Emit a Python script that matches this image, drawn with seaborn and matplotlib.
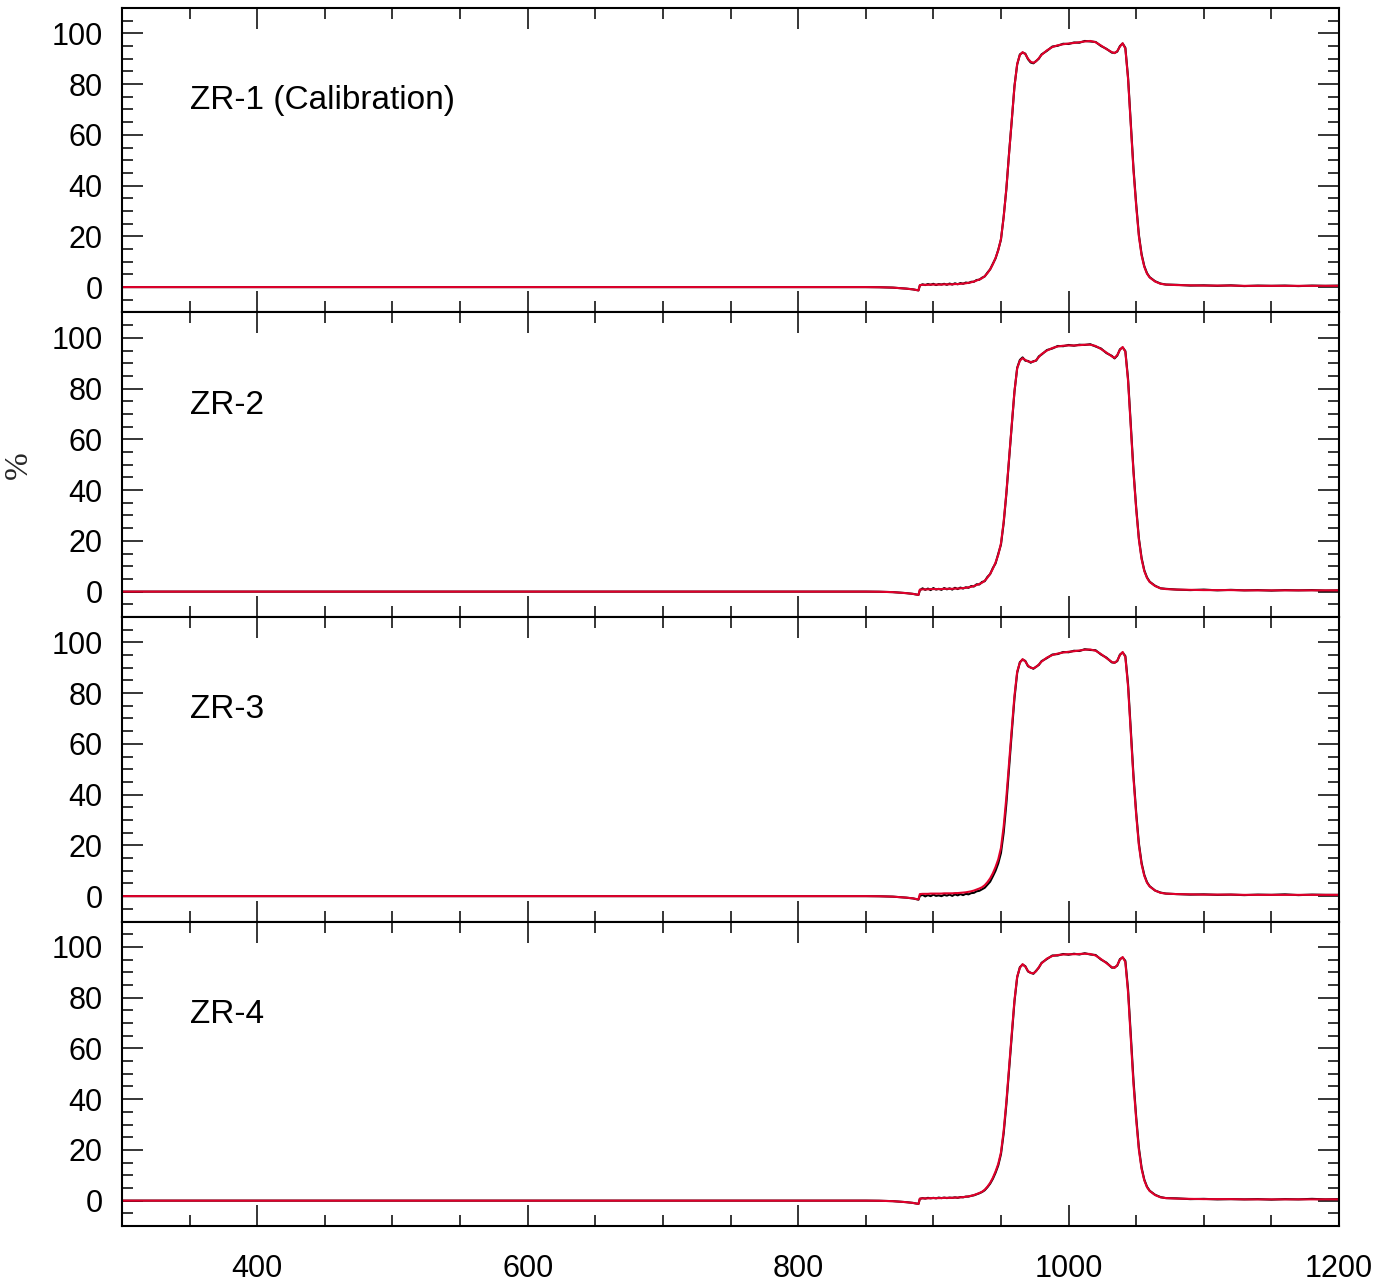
import matplotlib
matplotlib.use("Agg")
import matplotlib.pyplot as plt
from matplotlib.ticker import FixedLocator, MultipleLocator
import pandas as pd
import seaborn as sns

# Wavelength sampling (nm)
wavelength_nm = [
    300, 350, 400, 450, 500, 550, 600, 650, 700, 750, 800, 850,
    860, 870, 880, 885, 889,
    890, 892, 894, 896, 898, 900, 902, 904, 906, 908,
    910, 912, 914, 916, 918, 920, 922, 924, 926, 928,
    930, 932, 934, 936, 938, 940, 942, 944, 946, 948,
    950, 952, 954, 956, 958, 960, 962, 964, 966, 968,
    970, 972, 974, 976, 978, 980,
    984, 988, 992, 996, 1000, 1004, 1008, 1012, 1016, 1020, 1024, 1028,
    1032, 1034, 1036, 1038, 1040, 1042, 1044, 1046, 1048, 1050, 1052, 1054, 1056, 1058, 1060,
    1064, 1068, 1072, 1080,
    1090, 1100, 1110, 1120, 1130, 1140, 1150, 1160, 1170, 1180, 1190, 1200,
]

# ZR-1 transmission (%)
zr1_measured = [
    0.0, 0.0, 0.0, 0.0, 0.0, 0.0, 0.0, 0.0, 0.0, 0.0, 0.0, 0.0,
    -0.05, -0.2, -0.6, -0.9, -1.3,
    0.6, 1.1, 0.8, 1.2, 0.9, 1.3, 0.8, 1.2, 1.0, 1.3,
    0.9, 1.4, 1.0, 1.5, 1.1, 1.6, 1.3, 1.8, 1.6, 2.1,
    2.1, 2.8, 2.9, 3.7, 4.2, 5.7, 7.0, 9.2, 11.3, 14.7,
    18.7, 27.8, 38.6, 52.9, 65.6, 79.3, 87.7, 91.7, 92.4, 92.0,
    89.8, 88.5, 88.2, 89.1, 90.0, 91.7,
    93.1, 94.8, 95.1, 95.9, 95.8, 96.4, 96.3, 97.0, 96.8, 96.6, 95.0, 93.9,
    92.4, 92.3, 92.8, 95.0, 96.0, 94.3, 82.6, 64.8, 46.9, 32.8, 20.6, 13.0, 8.3, 5.5, 3.9,
    2.3, 1.4, 1.0, 0.9,
    0.6, 0.7, 0.5, 0.7, 0.4, 0.6, 0.5, 0.6, 0.4, 0.6, 0.5, 0.6,
]
zr1_fit = [
    0.0, 0.0, 0.0, 0.0, 0.0, 0.0, 0.0, 0.0, 0.0, 0.0, 0.0, 0.0,
    -0.05, -0.2, -0.6, -0.9, -1.3,
    0.8, 0.9, 0.9, 0.9, 1.0, 1.0, 1.0, 1.0, 1.0, 1.1,
    1.1, 1.1, 1.1, 1.2, 1.2, 1.3, 1.4, 1.5, 1.7, 1.9,
    2.2, 2.6, 3.0, 3.5, 4.3, 5.5, 7.0, 9.0, 11.5, 14.5,
    19.0, 27.5, 39.0, 52.5, 66.0, 79.0, 88.0, 91.5, 92.6, 91.8,
    90.0, 88.8, 88.4, 89.0, 90.2, 91.5,
    93.3, 94.6, 95.3, 95.7, 96.0, 96.2, 96.5, 96.8, 97.0, 96.5, 95.2, 93.8,
    92.6, 92.2, 93.0, 94.8, 96.1, 94.0, 82.0, 64.0, 46.0, 32.0, 20.0, 12.5, 8.0, 5.3, 3.8,
    2.2, 1.3, 1.0, 0.8,
    0.7, 0.6, 0.6, 0.6, 0.5, 0.5, 0.5, 0.5, 0.5, 0.5, 0.5, 0.5,
]

# ZR-2 transmission (%)
zr2_measured = [
    0.0, 0.0, 0.0, 0.0, 0.0, 0.0, 0.0, 0.0, 0.0, 0.0, 0.0, 0.0,
    -0.05, -0.2, -0.6, -0.9, -1.3,
    0.5, 1.3, 0.7, 1.2, 0.6, 1.4, 0.8, 1.1, 0.7, 1.4,
    0.9, 1.3, 0.8, 1.5, 1.0, 1.6, 1.2, 1.7, 1.5, 2.2,
    2.0, 2.9, 2.8, 3.8, 4.1, 5.8, 6.9, 9.3, 11.1, 14.9,
    18.5, 27.0, 38.5, 52.1, 65.5, 78.8, 88.2, 91.3, 92.3, 91.0,
    90.9, 90.2, 90.8, 91.0, 92.7, 93.4,
    95.2, 95.8, 96.8, 96.7, 97.2, 96.9, 97.3, 97.2, 97.5, 96.6, 95.8, 94.0,
    92.9, 91.9, 93.0, 95.5, 96.2, 94.8, 83.8, 66.0, 47.8, 33.2, 21.0, 13.3, 8.4, 5.6, 3.9,
    2.3, 1.3, 1.1, 0.8,
    0.6, 0.8, 0.5, 0.7, 0.5, 0.6, 0.4, 0.6, 0.5, 0.6, 0.4, 0.5,
]
zr2_fit = [
    0.0, 0.0, 0.0, 0.0, 0.0, 0.0, 0.0, 0.0, 0.0, 0.0, 0.0, 0.0,
    -0.05, -0.2, -0.6, -0.9, -1.3,
    0.8, 0.9, 0.9, 0.9, 1.0, 1.0, 1.0, 1.0, 1.0, 1.1,
    1.1, 1.1, 1.1, 1.2, 1.2, 1.3, 1.4, 1.5, 1.7, 1.9,
    2.2, 2.6, 3.0, 3.5, 4.3, 5.5, 7.0, 9.0, 11.5, 14.5,
    19.0, 27.5, 39.0, 52.5, 66.0, 79.0, 88.0, 91.0, 92.0, 91.3,
    90.7, 90.5, 90.6, 91.2, 92.4, 93.6,
    95.0, 96.0, 96.6, 96.9, 97.0, 97.0, 97.1, 97.3, 97.3, 96.8, 95.6, 94.2,
    92.7, 92.1, 93.2, 95.3, 96.4, 94.5, 83.0, 65.0, 47.0, 32.5, 20.5, 12.8, 8.1, 5.4, 3.8,
    2.2, 1.3, 1.0, 0.8,
    0.7, 0.6, 0.6, 0.6, 0.5, 0.5, 0.5, 0.5, 0.5, 0.5, 0.5, 0.5,
]

# ZR-3 transmission (%)
zr3_measured = [
    0.0, 0.0, 0.0, 0.0, 0.0, 0.0, 0.0, 0.0, 0.0, 0.0, 0.0, 0.0,
    -0.05, -0.2, -0.6, -0.9, -1.4,
    0.1, 0.5, -0.1, 0.4, 0.0, 0.6, 0.1, 0.3, 0.0, 0.5,
    0.2, 0.6, 0.1, 0.7, 0.3, 0.8, 0.4, 0.9, 0.7, 1.2,
    1.3, 1.9, 2.1, 2.7, 3.3, 4.5, 5.7, 7.8, 10.0, 12.9,
    17.0, 25.0, 36.5, 50.5, 64.5, 78.0, 88.0, 92.2, 93.2, 92.7,
    90.6, 90.1, 89.6, 90.4, 91.1, 92.6,
    93.8, 95.2, 95.4, 96.2, 96.1, 96.7, 96.6, 97.3, 97.0, 96.9, 95.2, 94.0,
    92.1, 92.0, 92.6, 95.2, 96.0, 94.6, 83.5, 65.8, 47.6, 33.0, 20.8, 13.1, 8.4, 5.5, 3.9,
    2.2, 1.4, 1.0, 0.8,
    0.6, 0.7, 0.5, 0.6, 0.4, 0.6, 0.5, 0.7, 0.4, 0.6, 0.5, 0.5,
]
zr3_fit = [
    0.0, 0.0, 0.0, 0.0, 0.0, 0.0, 0.0, 0.0, 0.0, 0.0, 0.0, 0.0,
    -0.05, -0.2, -0.6, -0.9, -1.3,
    0.8, 0.9, 0.9, 0.9, 1.0, 1.0, 1.0, 1.0, 1.0, 1.1,
    1.1, 1.1, 1.1, 1.2, 1.2, 1.3, 1.4, 1.5, 1.7, 1.9,
    2.2, 2.6, 3.0, 3.5, 4.3, 5.5, 7.0, 9.0, 11.5, 14.5,
    19.0, 27.5, 39.0, 52.5, 66.0, 79.0, 88.5, 92.0, 93.4, 92.5,
    90.8, 90.0, 89.8, 90.3, 91.3, 92.4,
    94.0, 95.0, 95.6, 96.0, 96.3, 96.5, 96.8, 97.1, 97.2, 96.7, 95.4, 93.8,
    92.3, 91.9, 92.8, 95.0, 96.2, 94.2, 82.5, 64.5, 46.5, 32.0, 20.0, 12.5, 8.0, 5.3, 3.8,
    2.2, 1.3, 1.0, 0.8,
    0.7, 0.6, 0.6, 0.6, 0.5, 0.5, 0.5, 0.5, 0.5, 0.5, 0.5, 0.5,
]

# ZR-4 transmission (%)
zr4_measured = [
    0.0, 0.0, 0.0, 0.0, 0.0, 0.0, 0.0, 0.0, 0.0, 0.0, 0.0, 0.0,
    -0.05, -0.2, -0.6, -0.9, -1.3,
    0.7, 1.0, 0.8, 1.1, 0.9, 1.1, 0.9, 1.2, 1.0, 1.2,
    1.0, 1.2, 1.1, 1.3, 1.1, 1.4, 1.3, 1.6, 1.6, 1.9,
    2.1, 2.5, 2.9, 3.4, 4.1, 5.3, 6.7, 8.6, 11.0, 13.9,
    18.3, 26.5, 38.0, 51.5, 65.0, 78.5, 88.0, 92.0, 93.0, 92.4,
    90.3, 89.8, 89.4, 90.6, 91.8, 93.7,
    95.2, 96.6, 96.6, 97.2, 96.9, 97.3, 97.0, 97.5, 97.0, 96.8, 95.0, 93.8,
    91.8, 91.9, 92.6, 95.2, 95.8, 94.5, 83.2, 65.5, 47.5, 33.0, 20.8, 13.0, 8.3, 5.5, 3.9,
    2.3, 1.4, 1.0, 0.9,
    0.6, 0.7, 0.5, 0.6, 0.5, 0.6, 0.4, 0.6, 0.5, 0.7, 0.5, 0.6,
]
zr4_fit = [
    0.0, 0.0, 0.0, 0.0, 0.0, 0.0, 0.0, 0.0, 0.0, 0.0, 0.0, 0.0,
    -0.05, -0.2, -0.6, -0.9, -1.3,
    0.8, 0.9, 0.9, 0.9, 1.0, 1.0, 1.0, 1.0, 1.0, 1.1,
    1.1, 1.1, 1.1, 1.2, 1.2, 1.3, 1.4, 1.5, 1.7, 1.9,
    2.2, 2.6, 3.0, 3.5, 4.3, 5.5, 7.0, 9.0, 11.5, 14.5,
    19.0, 27.5, 39.0, 52.5, 66.0, 79.0, 88.3, 91.8, 93.2, 92.2,
    90.5, 89.7, 89.6, 90.4, 92.0, 93.5,
    95.4, 96.4, 96.8, 97.0, 97.1, 97.1, 97.2, 97.3, 97.2, 96.6, 95.2, 93.6,
    92.0, 91.7, 92.8, 95.0, 96.0, 94.0, 82.0, 64.0, 46.0, 32.0, 20.0, 12.5, 8.0, 5.3, 3.8,
    2.2, 1.3, 1.0, 0.8,
    0.7, 0.6, 0.6, 0.6, 0.5, 0.5, 0.5, 0.5, 0.5, 0.5, 0.5, 0.5,
]

panel_names = ["ZR-1 (Calibration)", "ZR-2", "ZR-3", "ZR-4"]
measured_series = [zr1_measured, zr2_measured, zr3_measured, zr4_measured]
fit_series = [zr1_fit, zr2_fit, zr3_fit, zr4_fit]

x_major_ticks = [400, 600, 800, 1000, 1200]
y_major_ticks = [0, 20, 40, 60, 80, 100]

sns.set_theme(style="ticks")
plt.rcParams["font.family"] = ["Liberation Sans", "DejaVu Sans"]

fig, axes = plt.subplots(4, 1, figsize=(13.98, 12.85), dpi=100, sharex=True,
                         gridspec_kw={"hspace": 0})
fig.subplots_adjust(left=0.0873, right=0.9578, top=0.9938, bottom=0.0459)

palette = {"measured": "black", "fit": "#e0002b"}

for ax, name, meas, fit in zip(axes, panel_names, measured_series, fit_series):
    n = len(wavelength_nm)
    frame = pd.DataFrame({
        "wavelength": wavelength_nm + wavelength_nm,
        "percent": meas + fit,
        "trace": ["measured"] * n + ["fit"] * n,
    })
    sns.lineplot(data=frame, x="wavelength", y="percent", hue="trace",
                 hue_order=["measured", "fit"], palette=palette,
                 estimator=None, sort=False, linewidth=1.5, legend=False, ax=ax)
    ax.set_xlim(300, 1200)
    ax.set_ylim(-10, 110)
    ax.set_xlabel("")
    ax.set_ylabel("")
    ax.text(350, 73.5, name, fontsize=24, ha="left", va="center", color="black")

    ax.xaxis.set_major_locator(FixedLocator(x_major_ticks))
    ax.xaxis.set_minor_locator(MultipleLocator(50))
    ax.yaxis.set_major_locator(FixedLocator(y_major_ticks))
    ax.yaxis.set_minor_locator(MultipleLocator(5))
    ax.tick_params(which="both", direction="in", top=True, right=True,
                   width=1.1, color="black", labelcolor="black")
    ax.tick_params(which="major", length=15, labelsize=22)
    ax.tick_params(which="minor", length=8)
    ax.tick_params(axis="y", pad=14)
    ax.tick_params(axis="x", pad=20)
    for spine in ax.spines.values():
        spine.set_linewidth(1.5)
        spine.set_color("black")

fig.text(19 / 1398, 1 - 465 / 1285, "%", rotation=90, family="Liberation Serif",
         fontsize=24, ha="center", va="center")

fig.savefig("out.png", dpi=100)
